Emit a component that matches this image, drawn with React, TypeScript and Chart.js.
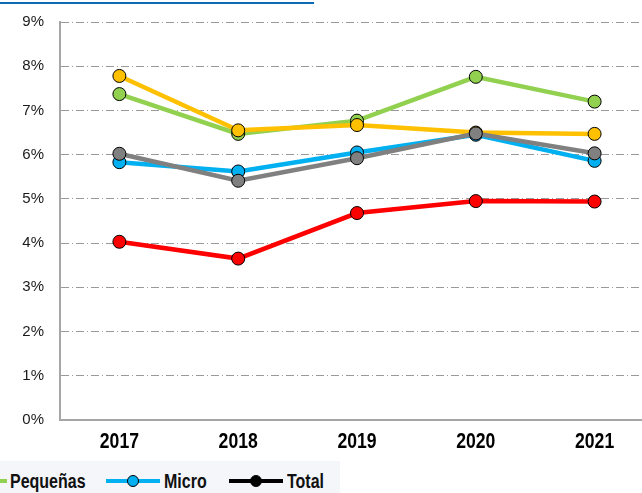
import React, { useEffect, useRef } from "react";
import { Chart, registerables } from "chart.js";

Chart.register(...registerables);

const years = ["2017", "2018", "2019", "2020", "2021"];
const yTicks = [0, 1, 2, 3, 4, 5, 6, 7, 8, 9];

const grandes = [4.03, 3.65, 4.68, 4.95, 4.94];
const promedio = [6.02, 5.41, 5.92, 6.48, 6.03];
const micro = [5.83, 5.62, 6.05, 6.45, 5.86];
const medianas = [7.78, 6.55, 6.67, 6.5, 6.47];
const pequenas = [7.37, 6.47, 6.77, 7.76, 7.2];

const legendLabels = ["Pequeñas", "Micro", "Total"];
const legendColors = ["#92d050", "#00b0f0", "#000000"];

const SANS = "'Liberation Sans', Arial, sans-serif";

function mk(label: string, data: number[], color: string) {
  return {
    label,
    data,
    borderColor: color,
    backgroundColor: color,
    borderWidth: 4.5,
    pointRadius: 6.5,
    pointHoverRadius: 6.5,
    pointBorderColor: "#000000",
    pointBackgroundColor: color,
    pointBorderWidth: 1,
    tension: 0,
  };
}

// draws the category labels in a condensed bold style (horizontally compressed text)
const narrowXLabels = {
  id: "narrowXLabels",
  afterDraw(chart: any) {
    const xs = chart.scales.x;
    const ctx = chart.ctx;
    const baseY = chart.chartArea.bottom + 28;
    ctx.save();
    ctx.font = "bold 22px " + SANS;
    ctx.fillStyle = "#000000";
    ctx.textAlign = "center";
    ctx.textBaseline = "alphabetic";
    (chart.data.labels as string[]).forEach((lab, i) => {
      const x = xs.getPixelForTick(i);
      ctx.save();
      ctx.translate(x, baseY);
      ctx.scale(0.8, 1);
      ctx.fillText(lab, 0, 0);
      ctx.restore();
    });
    ctx.restore();
  },
};

export default function App() {
  const ref = useRef<HTMLCanvasElement | null>(null);

  useEffect(() => {
    document.body.style.overflow = "hidden";
    const canvas = ref.current!;
    const chart = new Chart(canvas, {
      type: "line",
      data: {
        labels: years,
        datasets: [
          mk("Grandes", grandes, "#ff0000"),
          mk("Promedio", promedio, "#808080"),
          mk("Micro", micro, "#00b0f0"),
          mk("Medianas", medianas, "#ffc000"),
          mk("Pequeñas", pequenas, "#92d050"),
        ],
      },
      plugins: [narrowXLabels],
      options: {
        responsive: false,
        animation: false,
        devicePixelRatio: 1,
        layout: { padding: { top: 18, right: 26, bottom: 0, left: 0 } },
        plugins: { legend: { display: false }, tooltip: { enabled: false } },
        scales: {
          x: {
            offset: true,
            grid: { display: false, drawTicks: false },
            border: { display: true, color: "#a6a6a6", width: 2 },
            ticks: { display: false },
            afterFit: (s: any) => {
              s.height = 40;
            },
          },
          y: {
            min: yTicks[0],
            max: yTicks[yTicks.length - 1],
            afterBuildTicks: (s: any) => {
              s.ticks = yTicks.map((v) => ({ value: v }));
            },
            grid: { color: "#9a9a9a", lineWidth: 1, drawTicks: false },
            border: { display: true, color: "#a6a6a6", width: 2, dash: [8, 3, 1, 3] },
            ticks: {
              padding: 16,
              color: "#1a1a1a",
              font: { family: SANS, size: 15 },
              callback: (v: any) => v + "%",
            },
            afterFit: (s: any) => {
              s.width = 60;
            },
          },
        },
      },
    });
    return () => chart.destroy();
  }, []);

  const markerLeft = [-47, 106, 229];
  const textLeft = [10, 164, 287];

  return (
    <div
      style={{
        position: "fixed",
        left: 0,
        top: 0,
        width: 642,
        height: 493,
        overflow: "hidden",
        background: "#ffffff",
      }}
    >
      <div style={{ position: "absolute", left: 0, top: 2, width: 314, height: 2, background: "#0a6ab5" }} />
      <canvas
        ref={ref}
        width={680}
        height={463}
        style={{ position: "absolute", left: 0, top: -3, width: 680, height: 463 }}
      />
      <div
        style={{
          position: "absolute",
          left: 0,
          top: 461,
          width: 340,
          height: 32,
          background: "#f4f6fa",
          overflow: "hidden",
        }}
      >
        {legendLabels.map((lab, i) => (
          <React.Fragment key={lab}>
            <svg
              width={54}
              height={14}
              style={{ position: "absolute", left: markerLeft[i], top: 13, display: "block" }}
            >
              <line x1={0} y1={7} x2={54} y2={7} stroke={legendColors[i]} strokeWidth={4} />
              <circle cx={27} cy={7} r={5.5} fill={legendColors[i]} stroke="#000000" strokeWidth={1} />
            </svg>
            <span
              style={{
                position: "absolute",
                left: textLeft[i],
                top: 4,
                fontFamily: SANS,
                fontWeight: "bold",
                fontSize: 20,
                lineHeight: "32px",
                color: "#111111",
                whiteSpace: "nowrap",
                transform: "scaleX(0.8)",
                transformOrigin: "0 50%",
              }}
            >
              {lab}
            </span>
          </React.Fragment>
        ))}
      </div>
    </div>
  );
}
